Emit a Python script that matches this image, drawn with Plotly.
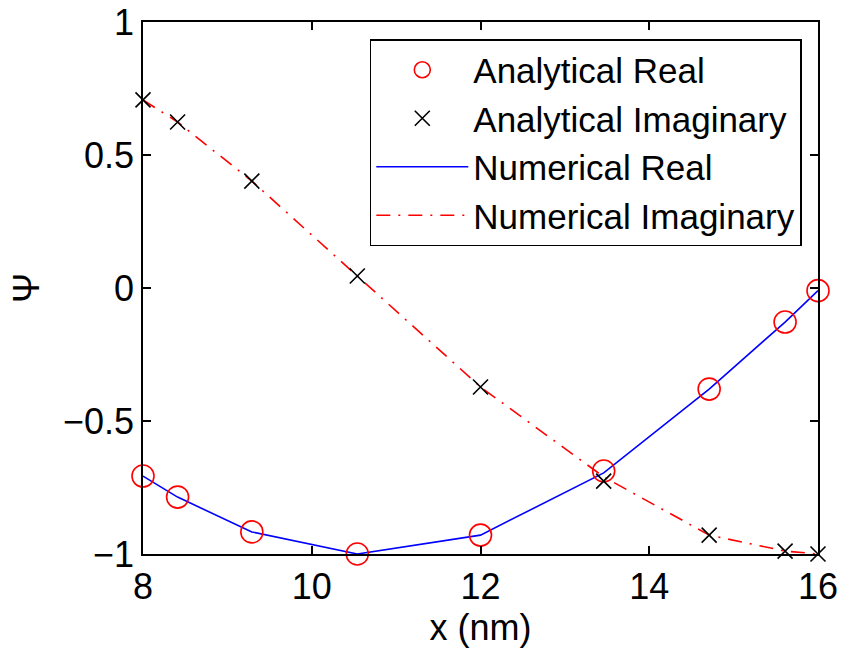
import plotly.graph_objects as go

x_nm = [8.0, 8.41, 9.29, 10.54, 12.0, 13.46, 14.71, 15.61, 16.0]
analytic_real = [-0.707, -0.786, -0.917, -1.0, -0.929, -0.688, -0.38, -0.128, -0.01]
analytic_imag = [0.707, 0.624, 0.402, 0.045, -0.372, -0.726, -0.929, -0.989, -1.0]
numeric_real = [-0.707, -0.786, -0.917, -1.0, -0.929, -0.695, -0.38, -0.128, -0.01]
numeric_imag = [0.707, 0.624, 0.402, 0.045, -0.372, -0.71, -0.929, -0.989, -1.0]

FONT = "Liberation Sans, Arial, sans-serif"
FS = 36

fig = go.Figure()
fig.add_trace(go.Scatter(x=x_nm, y=numeric_real, mode="lines", name="Numerical Real",
                         line=dict(color="#0000ff", width=1.6), legendrank=3, cliponaxis=False))
fig.add_trace(go.Scatter(x=x_nm, y=numeric_imag, mode="lines", name="Numerical Imaginary",
                         line=dict(color="#ff0000", width=1.6, dash="14px,8px,2px,8px"), legendrank=4,
                         cliponaxis=False))
fig.add_trace(go.Scatter(x=x_nm, y=analytic_real, mode="markers", name="Analytical Real",
                         marker=dict(symbol="circle-open", size=22, color="#ff0000",
                                     line=dict(width=1.6, color="#ff0000")), legendrank=1,
                         cliponaxis=False))
fig.add_trace(go.Scatter(x=x_nm, y=analytic_imag, mode="markers", name="Analytical Imaginary",
                         marker=dict(symbol="x-thin-open", size=15, color="#000000",
                                     line=dict(width=1.6, color="#000000")), legendrank=2,
                         cliponaxis=False))

axis_common = dict(showgrid=False, zeroline=False, showline=True, linecolor="black", linewidth=1.6,
                   mirror="ticks", ticks="inside", ticklen=8, tickwidth=1.6, tickcolor="black",
                   automargin=False,
                   tickfont=dict(family=FONT, size=FS, color="black"))

fig.update_layout(
    width=843, height=654,
    margin=dict(l=143, r=25, t=22, b=100, autoexpand=False),
    paper_bgcolor="white", plot_bgcolor="white",
    font=dict(family=FONT, color="black"),
    xaxis=dict(range=[8, 16], tickvals=[8, 10, 12, 14, 16],
               title=dict(text="x (nm)", font=dict(family=FONT, size=FS), standoff=8), **axis_common),
    yaxis=dict(range=[-1, 1], tickvals=[-1, -0.5, 0, 0.5, 1], ticktext=["\u22121", "\u22120.5", "0", "0.5", "1"],
               title=dict(text="\u03a8", font=dict(family=FONT, size=FS), standoff=12), **axis_common),
    legend=dict(x=0.976, y=0.968, xanchor="right", yanchor="top", bgcolor="white",
                bordercolor="black", borderwidth=1.5, font=dict(family=FONT, size=35),
                itemwidth=92, tracegroupgap=0, traceorder="normal"),
    showlegend=True,
)

fig.write_html("out.html")
